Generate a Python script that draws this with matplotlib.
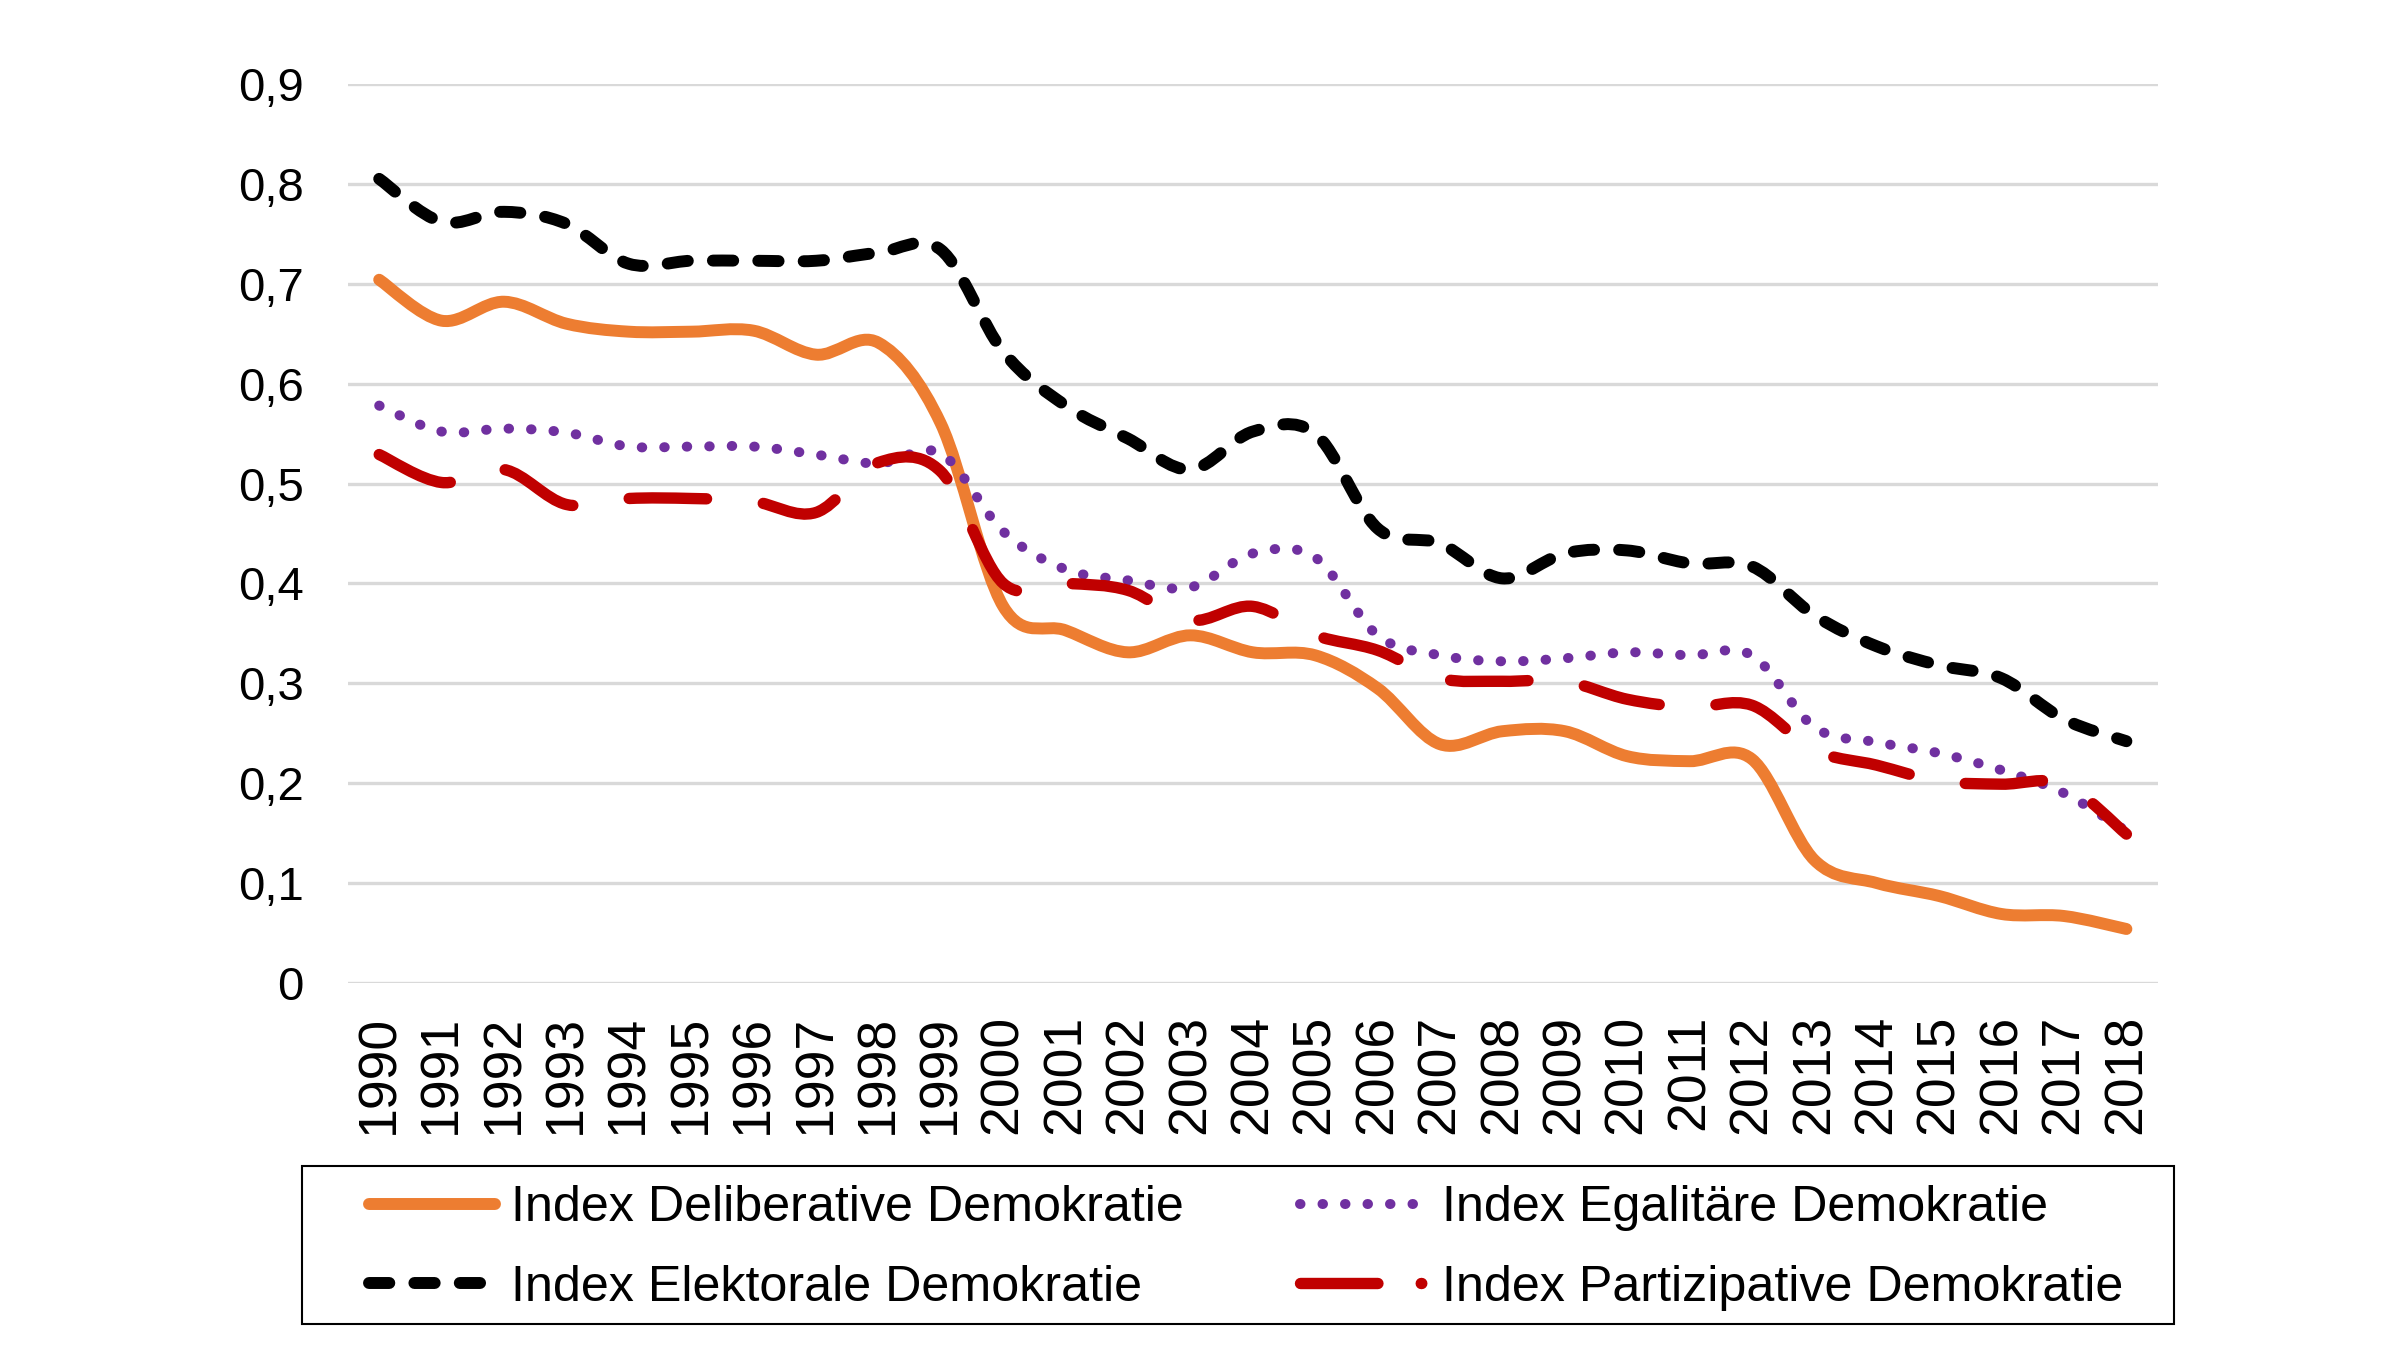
import matplotlib
matplotlib.use("Agg")
import matplotlib.pyplot as plt
from matplotlib.path import Path
from matplotlib.patches import PathPatch, Rectangle
from matplotlib.lines import Line2D

plt.rcParams["font.family"] = ["Liberation Sans", "DejaVu Sans"]

years = list(range(1990, 2019))
deliberative = [0.704, 0.663, 0.682, 0.660, 0.652, 0.652, 0.653, 0.629, 0.641, 0.560,
                0.377, 0.353, 0.331, 0.348, 0.331, 0.328, 0.295, 0.239, 0.252, 0.252,
                0.227, 0.222, 0.224, 0.123, 0.100, 0.087, 0.069, 0.067, 0.054]
egalitaer = [0.578, 0.552, 0.555, 0.551, 0.537, 0.537, 0.537, 0.529, 0.520, 0.530,
             0.452, 0.414, 0.403, 0.396, 0.430, 0.426, 0.348, 0.328, 0.322, 0.325,
             0.331, 0.328, 0.328, 0.256, 0.241, 0.230, 0.213, 0.190, 0.152]
elektoral = [0.805, 0.762, 0.772, 0.760, 0.720, 0.723, 0.723, 0.723, 0.731, 0.734,
             0.632, 0.578, 0.545, 0.514, 0.552, 0.550, 0.455, 0.440, 0.405, 0.430,
             0.433, 0.420, 0.417, 0.368, 0.337, 0.318, 0.305, 0.264, 0.242]
partizipativ = [0.529, 0.501, 0.514, 0.479, 0.485, 0.485, 0.482, 0.471, 0.521, 0.512,
                0.400, 0.400, 0.393, 0.363, 0.377, 0.348, 0.333, 0.305, 0.302, 0.302,
                0.284, 0.276, 0.278, 0.233, 0.218, 0.202, 0.199, 0.199, 0.149]

yticks = [0, 0.1, 0.2, 0.3, 0.4, 0.5, 0.6, 0.7, 0.8, 0.9]
ytick_labels = ["0", "0,1", "0,2", "0,3", "0,4", "0,5", "0,6", "0,7", "0,8", "0,9"]


def smooth_path(vals):
    # Excel-style smoothed line: cubic bezier through every data point
    pts = list(zip(range(len(vals)), vals))
    n = len(pts)
    verts = [pts[0]]
    codes = [Path.MOVETO]
    for i in range(n - 1):
        p0 = pts[max(i - 1, 0)]
        p1 = pts[i]
        p2 = pts[i + 1]
        p3 = pts[min(i + 2, n - 1)]
        c1 = (p1[0] + (p2[0] - p0[0]) / 6, p1[1] + (p2[1] - p0[1]) / 6)
        c2 = (p2[0] - (p3[0] - p1[0]) / 6, p2[1] - (p3[1] - p1[1]) / 6)
        verts += [c1, c2, p2]
        codes += [Path.CURVE4] * 3
    return Path(verts, codes)


fig = plt.figure(figsize=(24, 13.5), dpi=100)
ax = fig.add_axes([0.145, 0.2719, 0.754, 0.6659])

series = [
    (deliberative, "#ED7D31", 8.6, "-", "Index Deliberative Demokratie"),
    (egalitaer, "#7030A0", 7.2, (0, (0.05, 2.2)), "Index Egalitäre Demokratie"),
    (elektoral, "#000000", 8.6, (0, (1.7, 2.1)), "Index Elektorale Demokratie"),
    (partizipativ, "#C00000", 8.2, (0, (6.8, 5.0)), "Index Partizipative Demokratie"),
]

handles = {}
for vals, col, lw, ls, name in series:
    patch = PathPatch(smooth_path(vals), fill=False, edgecolor=col, lw=lw,
                      linestyle=ls, capstyle="round", joinstyle="round")
    ax.add_patch(patch)
    if name.startswith("Index Partizipative"):
        ls = (0, (6.8, 3.8, 0.05, 3.8))
    handles[name] = Line2D([], [], color=col, lw=lw, linestyle=ls,
                           dash_capstyle="round", solid_capstyle="round")

ax.set_xlim(-0.5, len(years) - 0.5)
ax.set_ylim(0, 0.9)
ax.set_xticks(range(len(years)))
ax.set_xticklabels([str(y) for y in years], rotation=90, fontsize=38.5)
ax.set_yticks(yticks)
ax.set_yticklabels(ytick_labels, fontsize=34)
ax.tick_params(axis="both", length=0)
ax.tick_params(axis="y", pad=32)
ax.tick_params(axis="x", pad=23)
ax.yaxis.grid(True, color="#D9D9D9", lw=2.4)
ax.set_axisbelow(True)
for s in ax.spines.values():
    s.set_visible(False)

# legend box
fig.patches.append(Rectangle((0.126, 0.0193), 0.780, 0.117, transform=fig.transFigure,
                             fill=False, edgecolor="black", lw=1.5))

order = ["Index Deliberative Demokratie", "Index Elektorale Demokratie",
         "Index Egalitäre Demokratie", "Index Partizipative Demokratie"]
leg = fig.legend([handles[k] for k in order], order, ncol=2, fontsize=36.2,
                 loc="center left", bbox_to_anchor=(0.1538, 0.0755),
                 frameon=False, handlelength=2.5, handletextpad=0.33,
                 labelspacing=0.66, columnspacing=2.3, borderpad=0,
                 borderaxespad=0)

fig.savefig("out.png", dpi=100)
